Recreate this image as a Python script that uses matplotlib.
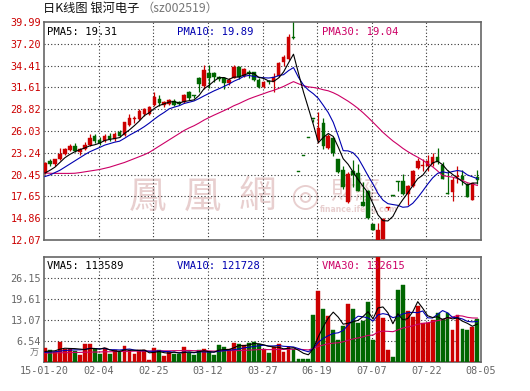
import numpy as np
import pandas as pd
import matplotlib
matplotlib.use("Agg")
import matplotlib.pyplot as plt

plt.rcParams['font.family'] = ['Noto Sans CJK SC', 'DejaVu Sans']

# ---------------- data ----------------
opens = [20.6, 22.23, 21.8, 22.5, 23.1, 23.6, 24.1, 23.4, 23.69, 24.24,
         25.39, 24.9, 24.79, 25.39, 25.04, 25.95, 25.5, 26.84, 27.6, 27.6,
         28.2, 28.2, 29.4, 30.1, 29.3, 29.45, 29.9, 29.7, 29.8, 31.05,
         30.6, 32.8, 31.8, 33.46, 33.4, 32.95, 32.8, 32.18, 32.86, 34.27,
         33.12, 33.63, 33.54, 32.56, 31.66, 32.4, 32.35, 33.07, 34.9, 35.21,
         38.0, 20.82, 22.85, 25.1, 27.6, 24.9, 27.0, 23.8, 25.1, 22.5,
         21.0, 17.0, 20.95, 20.6, 16.98, 18.3, 14.1, 12.07, 12.25, 16.2,
         17.8, 19.6, 19.6, 17.9, 19.0, 21.3, 21.55, 21.5, 21.8, 22.7,
         21.7, 18.1, 18.25, 20.2, 20.3, 19.2, 17.25, 20.1]
highs = [22.0, 22.4, 22.5, 23.9, 23.9, 24.4, 24.5, 23.8, 24.6, 25.65,
         25.6, 25.2, 25.7, 25.8, 25.9, 26.2, 27.2, 28.2, 27.9, 28.8,
         29.0, 29.2, 31.0, 30.7, 29.9, 30.1, 30.1, 29.9, 30.8, 31.1,
         30.7, 33.0, 34.5, 34.5, 33.6, 33.1, 33.0, 32.8, 34.5, 34.4,
         34.1, 33.8, 33.6, 32.8, 32.4, 32.6, 33.4, 34.9, 35.8, 38.45,
         39.99, 20.82, 22.85, 25.1, 27.6, 28.4, 27.7, 25.65, 25.3, 22.5,
         21.5, 20.8, 22.3, 21.8, 19.5, 18.5, 14.15, 14.2, 14.95, 16.26,
         17.85, 19.6, 20.5, 19.1, 21.0, 22.6, 22.5, 23.0, 23.2, 23.8,
         22.0, 21.0, 20.2, 21.6, 21.0, 19.4, 19.4, 21.0]
lows = [20.5, 21.6, 21.5, 22.3, 23.0, 23.5, 23.4, 23.0, 23.6, 24.1,
        24.5, 24.3, 24.6, 24.8, 24.8, 25.3, 25.4, 26.7, 27.1, 27.5,
        28.0, 28.1, 29.2, 29.2, 29.1, 29.3, 29.2, 29.3, 29.6, 30.0,
        30.3, 31.0, 31.4, 31.6, 32.3, 32.4, 31.4, 31.9, 32.8, 32.7,
        33.0, 32.8, 32.4, 31.6, 31.5, 32.0, 31.0, 33.0, 34.4, 35.1,
        37.8, 20.82, 22.85, 25.1, 27.15, 24.5, 23.7, 23.7, 22.8, 20.7,
        18.6, 16.8, 18.9, 18.3, 16.4, 14.8, 13.3, 12.07, 12.2, 15.85,
        17.7, 18.4, 17.8, 16.6, 18.9, 21.1, 20.9, 20.9, 21.5, 21.8,
        19.85, 17.95, 17.1, 19.4, 19.1, 17.55, 17.2, 19.3]
closes = [21.97, 21.8, 22.4, 23.1, 23.76, 24.1, 23.5, 23.69, 24.24, 25.1,
          24.79, 24.53, 25.39, 24.96, 25.65, 25.39, 27.2, 27.7, 27.7, 28.63,
          28.8, 29.07, 30.4, 29.6, 29.7, 29.95, 29.3, 29.5, 30.6, 30.2,
          30.5, 32.1, 33.8, 32.8, 32.9, 32.7, 32.18, 32.6, 34.27, 32.95,
          33.97, 33.29, 32.6, 31.7, 32.26, 32.35, 33.0, 34.78, 35.55, 38.11,
          37.9, 20.82, 22.85, 25.1, 27.55, 26.4, 24.1, 25.4, 23.2, 20.8,
          18.9, 20.5, 20.45, 18.4, 16.43, 14.85, 13.35, 13.4, 14.7, 16.26,
          17.75, 19.5, 18.0, 19.0, 20.9, 22.2, 21.7, 22.2, 22.7, 22.05,
          19.9, 18.0, 19.75, 20.3, 19.8, 17.6, 19.35, 19.8]
volumes = [4.38, 3.65, 2.92, 6.25, 3.86, 3.96, 3.44, 2.19, 5.53, 5.53,
           3.86, 2.5, 4.17, 2.5, 3.65, 3.24, 4.9, 3.65, 2.4, 3.65,
           3.65, 0.53, 4.38, 3.65, 1.78, 2.92, 2.5, 2.5, 4.59, 2.82,
           2.09, 3.65, 3.96, 3.13, 2.09, 5.21, 4.59, 3.96, 5.84, 5.53,
           5.11, 5.73, 6.15, 5.42, 3.96, 2.82, 4.69, 5.53, 3.13, 4.69,
           3.86, 0.74, 0.74, 0.74, 14.58, 22.18, 16.45, 14.27, 9.9, 6.78,
           11.15, 18.01, 16.45, 12.19, 12.71, 18.74, 6.78, 33.5, 13.75, 3.65,
           1.57, 22.39, 23.95, 15.83, 14.06, 17.49, 12.19, 12.19, 13.02, 15.31,
           13.23, 15.31, 9.9, 14.58, 10.21, 9.9, 10.73, 13.33]

# moving-average values at the start of the window (history before the first day)
ma5_head = [20.65, 21.0, 21.4, 22.0]
ma10_head = [20.2, 20.4, 20.7, 21.0, 21.4, 21.8, 22.2, 22.6, 23.0]
ma30_head = [20.65, 20.62, 20.6, 20.6, 20.6, 20.6, 20.62, 20.7, 20.8, 20.9,
             21.0, 21.1, 21.25, 21.4, 21.6, 21.8, 22.0, 22.25, 22.5, 22.75,
             23.0, 23.3, 23.7, 24.1, 24.5, 24.9, 25.3, 25.7, 26.1]
vma5_head = [3.2, 3.3, 3.4, 3.9]
vma10_head = [2.9, 3.0, 3.1, 3.3, 3.5, 3.6, 3.7, 3.7, 3.8]
vma30_head = [2.7, 2.7, 2.75, 2.8, 2.8, 2.85, 2.9, 2.9, 2.95, 3.0,
              3.0, 3.05, 3.1, 3.1, 3.15, 3.2, 3.2, 3.25, 3.3, 3.3,
              3.3, 3.35, 3.35, 3.4, 3.4, 3.4, 3.45, 3.45, 3.5]

price_ticks = [12.07, 14.86, 17.65, 20.45, 23.24, 26.03, 28.82, 31.61, 34.41, 37.20, 39.99]
price_labels = ['12.07', '14.86', '17.65', '20.45', '23.24', '26.03', '28.82',
                '31.61', '34.41', '37.20', '39.99']
vol_ticks = [6.54, 13.07, 19.61, 26.15]
vol_labels = ['6.54', '13.07', '19.61', '26.15']
vol_top = 32.69
date_labels = ['15-01-20', '02-04', '02-25', '03-12', '03-27', '06-19', '07-07', '07-22', '08-05']
price_legend = ['PMA5: 19.31', 'PMA10: 19.89', 'PMA30: 19.04']
vol_legend = ['VMA5: 113589', 'VMA10: 121728', 'VMA30: 132615']
title_main = '日K线图 银河电子'
title_code = '（sz002519）'

# ---------------- styling ----------------
RED = '#cc0000'
GREEN = '#006600'
C5, C10, C30 = '#000000', '#0000b0', '#cc0066'
MONO = 'DejaVu Sans Mono'
GRID = dict(color='#333333', linewidth=0.8, linestyle=(0, (1, 2)))


def moving_avg(values, n, head):
    s = pd.Series(values, dtype=float).rolling(n).mean().to_numpy()
    s[:len(head)] = head
    return s


W, H = 530, 391
fig = plt.figure(figsize=(W / 100, H / 100), dpi=100, facecolor='white')


def fx(px):
    return px / W


def fy(py):
    return 1 - py / H


ax = fig.add_axes([fx(44), fy(240), fx(481) - fx(44), fy(22) - fy(240)])
axv = fig.add_axes([fx(44), fy(361.7), fx(481) - fx(44), fy(257) - fy(361.7)])

n = len(closes)
x = np.arange(n)
o = np.array(opens); c = np.array(closes); h = np.array(highs); l = np.array(lows)
v = np.array(volumes)
up = c > o
colors = np.where(up, RED, GREEN)
xl = (-0.2, 87.73)

for a in (ax, axv):
    a.set_xlim(*xl)
    a.set_facecolor('white')
    for s in a.spines.values():
        s.set_color('#666666')
        s.set_linewidth(1.2)
    a.tick_params(length=0)
    for k in range(1, 8):
        a.axvline(xl[0] + k * (xl[1] - xl[0]) / 8, zorder=1, **GRID)

# ---- price panel ----
ax.set_ylim(price_ticks[0], price_ticks[-1])
for t in price_ticks[1:-1]:
    ax.axhline(t, zorder=1, **GRID)
ax.set_yticks(price_ticks)
ax.set_yticklabels(price_labels, fontfamily=MONO, fontsize=7.3, color=RED)
ax.tick_params(axis='y', pad=2)
ax.set_xticks([])

ax.vlines(x, l, h, colors=colors, linewidth=0.9, zorder=3)
body_bottom = np.minimum(o, c)
body_h = np.maximum(np.abs(c - o), 0.12)
ax.bar(x, body_h, bottom=body_bottom, width=0.72, color=colors, edgecolor=colors,
       linewidth=0.3, zorder=4)

ax.plot(x, moving_avg(closes, 30, ma30_head), color=C30, lw=0.8, zorder=5)
ax.plot(x, moving_avg(closes, 10, ma10_head), color=C10, lw=0.8, zorder=5)
ax.plot(x, moving_avg(closes, 5, ma5_head), color=C5, lw=0.8, zorder=5)

for txt, px, col in zip(price_legend, (47, 177, 322), (C5, C10, C30)):
    ax.text(fx(px), fy(32), txt, transform=fig.transFigure, fontfamily=MONO,
            fontsize=7.6, color=col, va='center', ha='left', zorder=6)

# watermark
WM = '#e8cfcf'
for ch, px in zip('鳳凰網', (148, 203, 257)):
    ax.text(fx(px), fy(197), ch, transform=fig.transFigure, fontsize=27,
            color=WM, ha='center', va='center', zorder=0.5,
            family=['Noto Sans CJK TC', 'DejaVu Sans'])
ax.text(fx(305), fy(196), '◎', transform=fig.transFigure, fontsize=24,
        color=WM, ha='center', va='center', zorder=0.5, family=['DejaVu Sans'])
ax.text(fx(355), fy(192), '財經', transform=fig.transFigure, fontsize=18,
        color=WM, ha='center', va='center', zorder=0.5,
        family=['Noto Sans CJK TC', 'DejaVu Sans'])
ax.text(fx(359), fy(210), 'finance.ifeng.com', transform=fig.transFigure, fontsize=5.5,
        color=WM, ha='center', va='center', zorder=0.5, family=['DejaVu Sans'],
        fontweight='bold')

# title
fig.text(fx(43), fy(8), title_main, fontsize=8.8, color='#111111', ha='left', va='center')
fig.text(fx(142), fy(8), title_code, fontsize=8.8, color='#777777', ha='left', va='center')

# ---- volume panel ----
axv.set_ylim(0, vol_top)
for t in vol_ticks:
    axv.axhline(t, zorder=1, **GRID)
axv.set_yticks(vol_ticks)
axv.set_yticklabels(vol_labels, fontfamily=MONO, fontsize=7.3, color='#666666')
axv.tick_params(axis='y', pad=2)
axv.bar(x, v, width=0.78, color=colors, edgecolor=colors, linewidth=0.3, zorder=3)
axv.plot(x, moving_avg(volumes, 30, vma30_head), color=C30, lw=0.8, zorder=5)
axv.plot(x, moving_avg(volumes, 10, vma10_head), color=C10, lw=0.8, zorder=5)
axv.plot(x, moving_avg(volumes, 5, vma5_head), color=C5, lw=0.8, zorder=5)
axv.text(-0.012, 0.08, '万', transform=axv.transAxes, fontsize=6.5, color='#777777',
         ha='right', va='center')

xt = [xl[0] + k * (xl[1] - xl[0]) / 8 for k in range(9)]
axv.set_xticks(xt)
axv.set_xticklabels(date_labels, fontfamily=MONO, fontsize=7.3, color='#666666')
axv.tick_params(axis='x', pad=3)

for txt, px, col in zip(vol_legend, (47, 177, 322), (C5, C10, C30)):
    axv.text(fx(px), fy(266), txt, transform=fig.transFigure, fontfamily=MONO,
             fontsize=7.6, color=col, va='center', ha='left', zorder=6)

fig.savefig('out.png', dpi=100, facecolor='white')
